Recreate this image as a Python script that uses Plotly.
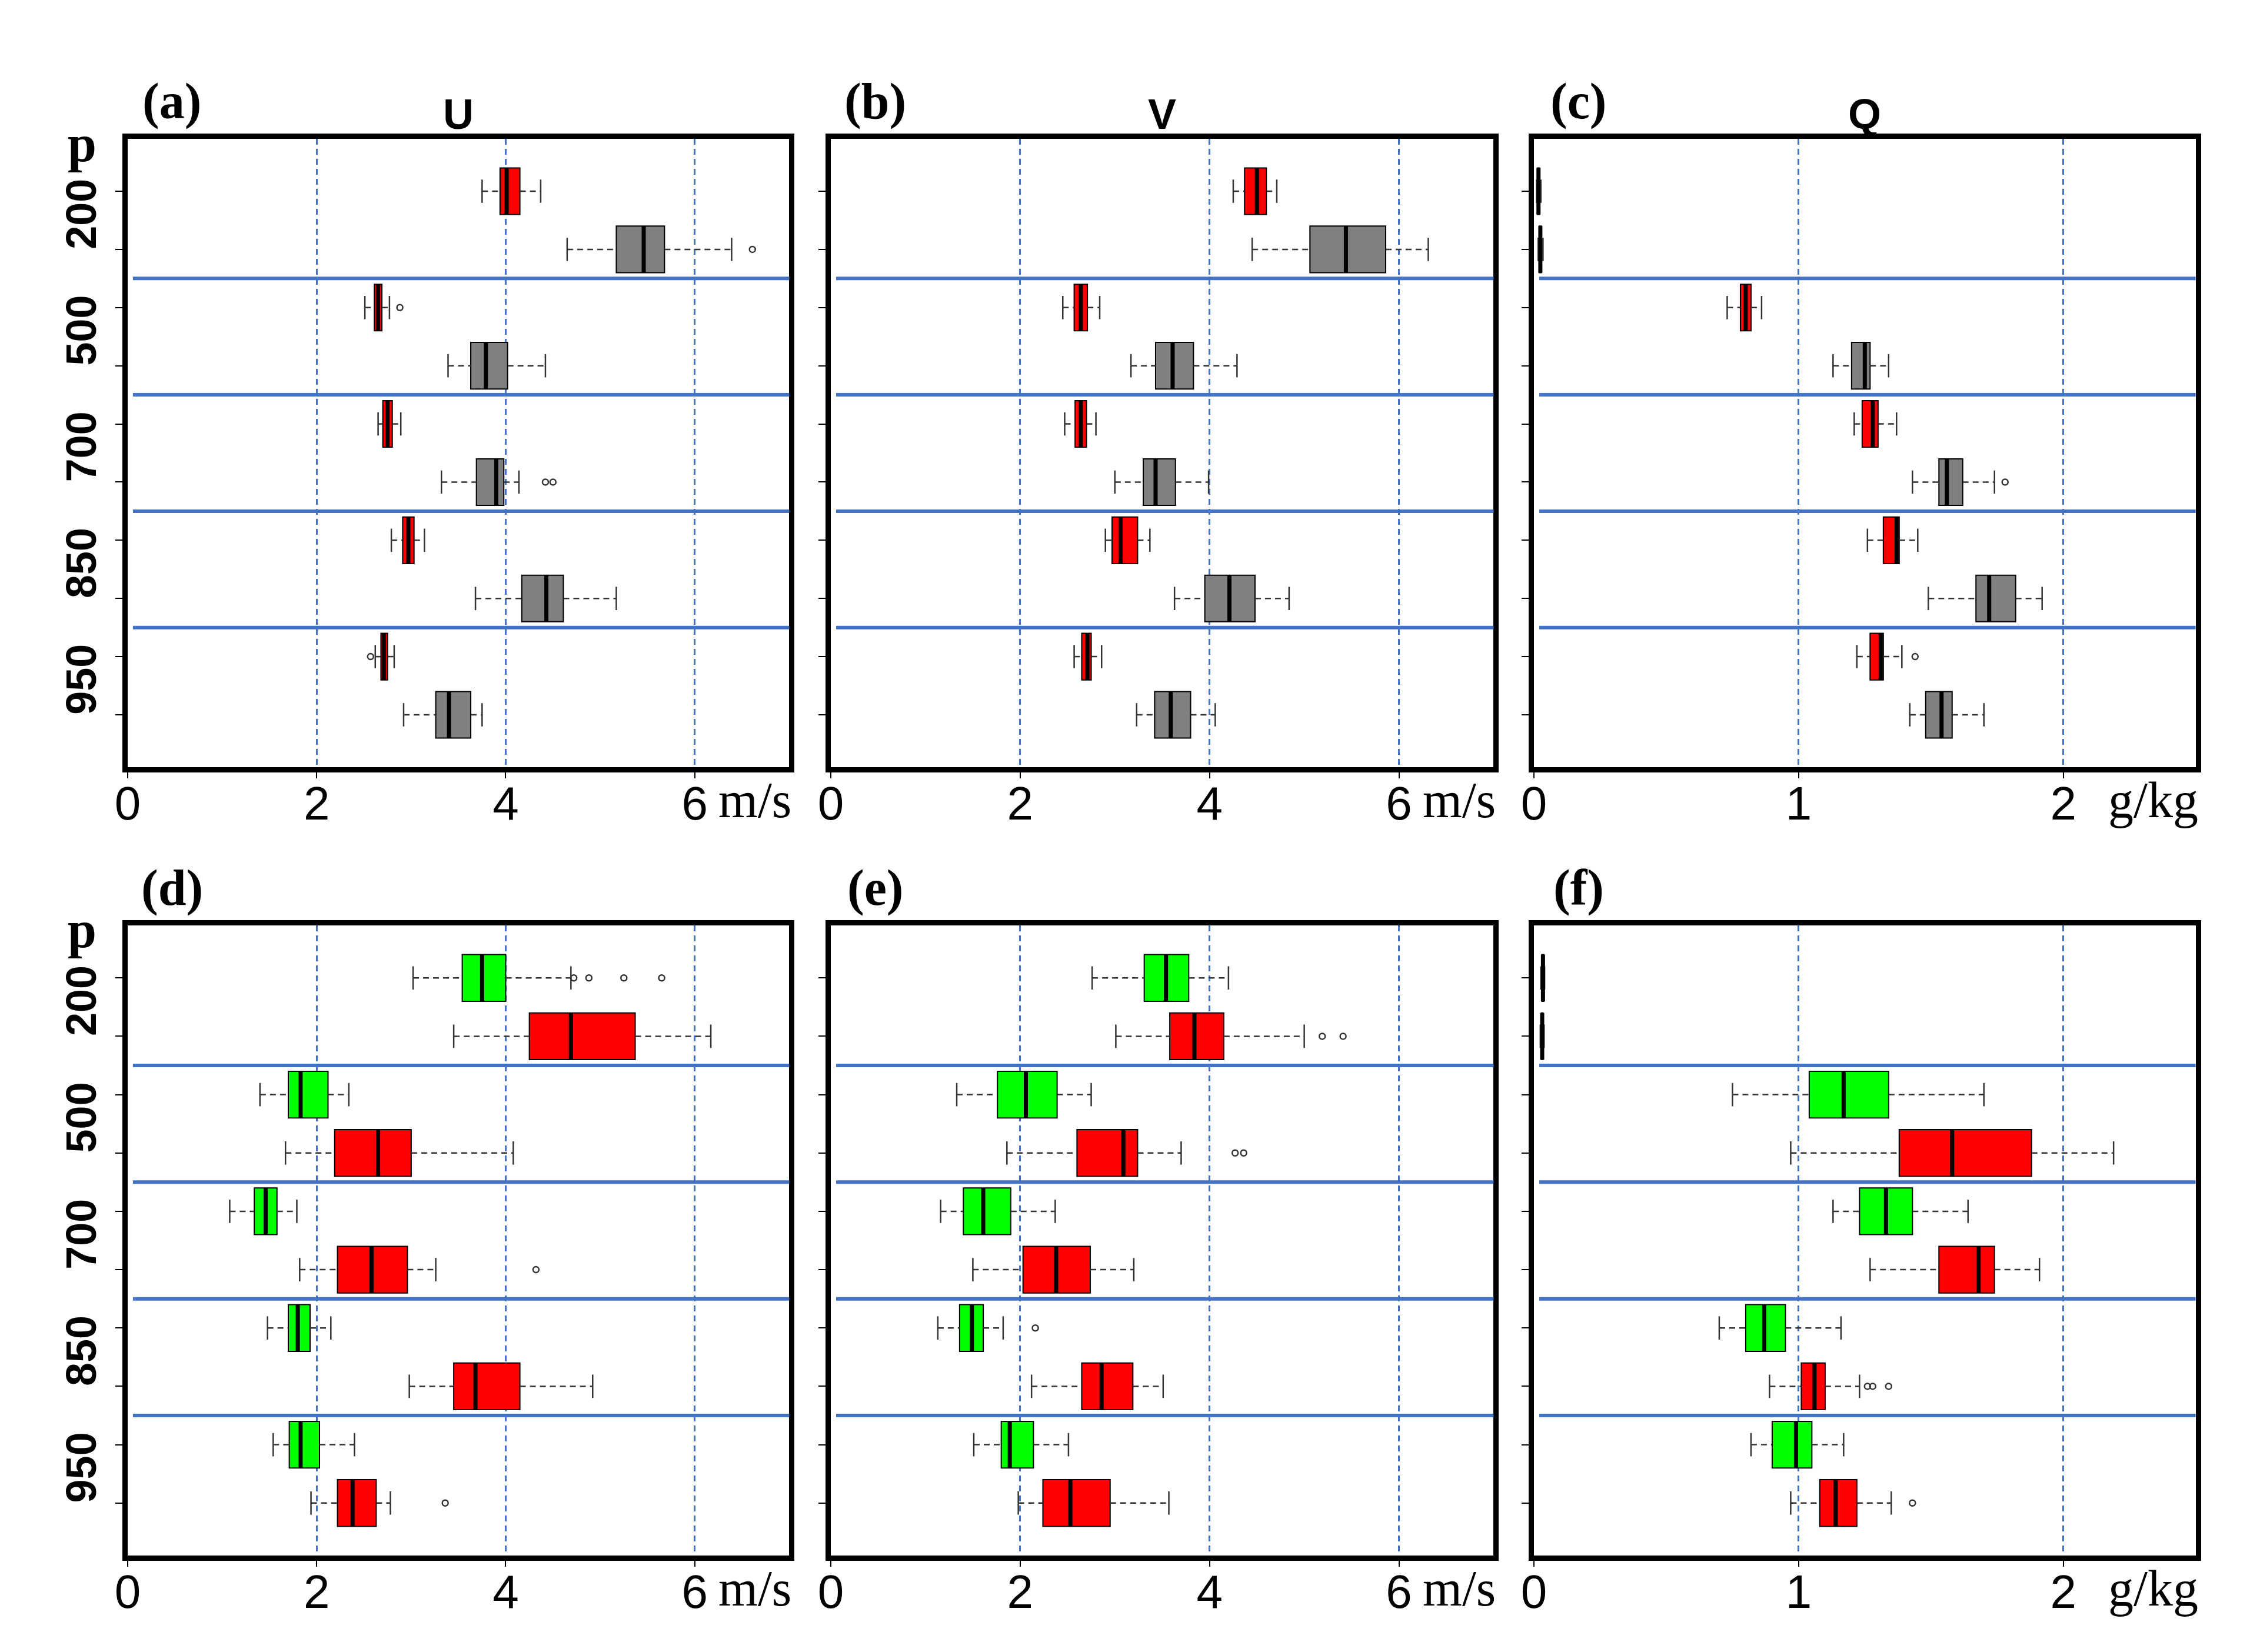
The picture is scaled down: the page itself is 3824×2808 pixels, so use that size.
import plotly.graph_objects as go

# pressure levels (hPa), two boxes per level
levels = ["200", "500", "700", "850", "950"]

# each row: lower whisker, q1, median, q3, upper whisker  (one row per level)
# (a) U  red / gray
a_red = [[3.75, 3.94, 4.01, 4.15, 4.37], [2.51, 2.61, 2.65, 2.69, 2.77], [2.65, 2.70, 2.75, 2.80, 2.89],
         [2.79, 2.91, 2.97, 3.03, 3.14], [2.62, 2.68, 2.71, 2.75, 2.82]]
a_red_out = [[], [2.88], [], [], [2.57]]
a_gray = [[4.65, 5.17, 5.46, 5.68, 6.39], [3.39, 3.63, 3.79, 4.02, 4.42], [3.32, 3.69, 3.90, 3.98, 4.14],
          [3.68, 4.17, 4.43, 4.61, 5.17], [2.92, 3.26, 3.40, 3.63, 3.75]]
a_gray_out = [[6.61], [], [4.42, 4.50], [], []]

# (b) V  red / gray
b_red = [[4.25, 4.37, 4.50, 4.60, 4.71], [2.45, 2.57, 2.64, 2.71, 2.84], [2.47, 2.58, 2.64, 2.70, 2.80],
         [2.90, 2.97, 3.06, 3.24, 3.37], [2.57, 2.65, 2.71, 2.75, 2.86]]
b_red_out = [[], [], [], [], []]
b_gray = [[4.45, 5.06, 5.44, 5.86, 6.31], [3.17, 3.43, 3.61, 3.83, 4.29], [3.00, 3.30, 3.43, 3.64, 3.99],
          [3.63, 3.95, 4.21, 4.48, 4.84], [3.23, 3.42, 3.59, 3.80, 4.06]]
b_gray_out = [[], [], [], [], []]

# (c) Q  red / gray
c_red = [[0.010, 0.013, 0.017, 0.021, 0.026], [0.73, 0.78, 0.80, 0.82, 0.86], [1.21, 1.24, 1.28, 1.30, 1.37],
         [1.26, 1.32, 1.37, 1.38, 1.45], [1.22, 1.27, 1.31, 1.32, 1.39]]
c_red_out = [[], [], [], [], [1.44]]
c_gray = [[0.016, 0.020, 0.024, 0.028, 0.034], [1.13, 1.20, 1.25, 1.27, 1.34], [1.43, 1.53, 1.56, 1.62, 1.74],
          [1.49, 1.67, 1.72, 1.82, 1.92], [1.42, 1.48, 1.54, 1.58, 1.70]]
c_gray_out = [[], [], [1.78], [], []]

# (d) U  green / red
d_green = [[3.02, 3.54, 3.75, 4.00, 4.69], [1.40, 1.70, 1.83, 2.12, 2.34], [1.08, 1.34, 1.46, 1.58, 1.79],
           [1.48, 1.70, 1.80, 1.93, 2.15], [1.54, 1.71, 1.83, 2.03, 2.40]]
d_green_out = [[4.72, 4.88, 5.25, 5.65], [], [], [], []]
d_red = [[3.45, 4.25, 4.69, 5.37, 6.17], [1.67, 2.19, 2.65, 3.00, 4.08], [1.82, 2.22, 2.58, 2.96, 3.26],
         [2.98, 3.45, 3.68, 4.15, 4.92], [1.94, 2.22, 2.38, 2.63, 2.78]]
d_red_out = [[], [], [4.32], [], [3.36]]

# (e) V  green / red
e_green = [[2.76, 3.31, 3.54, 3.78, 4.20], [1.33, 1.76, 2.06, 2.39, 2.75], [1.16, 1.40, 1.61, 1.90, 2.37],
           [1.13, 1.36, 1.49, 1.61, 1.82], [1.51, 1.80, 1.89, 2.14, 2.51]]
e_green_out = [[], [], [], [2.16], []]
e_red = [[3.01, 3.58, 3.84, 4.15, 5.00], [1.86, 2.60, 3.09, 3.24, 3.70], [1.50, 2.03, 2.38, 2.74, 3.20],
         [2.12, 2.65, 2.86, 3.19, 3.51], [1.98, 2.24, 2.53, 2.95, 3.57]]
e_red_out = [[5.19, 5.41], [4.27, 4.36], [], [], []]

# (f) Q  green / red
f_green = [[0.026, 0.030, 0.034, 0.037, 0.040], [0.75, 1.04, 1.17, 1.34, 1.70], [1.13, 1.23, 1.33, 1.43, 1.64],
           [0.70, 0.80, 0.87, 0.95, 1.16], [0.82, 0.90, 0.99, 1.05, 1.17]]
f_green_out = [[], [], [], [], []]
f_red = [[0.024, 0.028, 0.031, 0.034, 0.038], [0.97, 1.38, 1.58, 1.88, 2.19], [1.27, 1.53, 1.68, 1.74, 1.91],
         [0.89, 1.01, 1.06, 1.10, 1.23], [0.97, 1.08, 1.14, 1.22, 1.35]]
f_red_out = [[], [], [], [1.26, 1.28, 1.34], [1.43]]

wind_ticks = [0, 2, 4, 6]
q_ticks = [0, 1, 2]

RED = "#FF0000"
GRAY = "#808080"
GREEN = "#00FF00"
BLUE = "#4472C4"
SANS = "Liberation Sans, Arial, sans-serif"
SERIF = "Liberation Serif, Times New Roman, serif"

W, H = 3824, 2808
col_px = [(188, 1319), (1390, 2523), (2592, 3723)]
row_px = [(228, 1296), (1565, 2636)]

panels = [
    ("(a)", "U", "m/s", 7.0, wind_ticks, (a_red, a_red_out, RED), (a_gray, a_gray_out, GRAY)),
    ("(b)", "V", "m/s", 7.0, wind_ticks, (b_red, b_red_out, RED), (b_gray, b_gray_out, GRAY)),
    ("(c)", "Q", "g/kg", 2.5, q_ticks, (c_red, c_red_out, RED), (c_gray, c_gray_out, GRAY)),
    ("(d)", "", "m/s", 7.0, wind_ticks, (d_green, d_green_out, GREEN), (d_red, d_red_out, RED)),
    ("(e)", "", "m/s", 7.0, wind_ticks, (e_green, e_green_out, GREEN), (e_red, e_red_out, RED)),
    ("(f)", "", "g/kg", 2.5, q_ticks, (f_green, f_green_out, GREEN), (f_red, f_red_out, RED)),
]

fig = go.Figure()
shapes = []
annotations = []
layout_axes = {}

for k, (tag, title, unit, xmax, ticks, s1, s2) in enumerate(panels):
    r, c = divmod(k, 3)
    sfx = "" if k == 0 else str(k + 1)
    xa, ya = "x" + sfx, "y" + sfx
    x0, x1 = col_px[c][0] / W, col_px[c][1] / W
    y0, y1 = 1 - row_px[r][1] / H, 1 - row_px[r][0] / H

    wx, wy, cx, cy, mx, my, ox, oy = [], [], [], [], [], [], [], []
    for j, (stats, outs, color) in enumerate([s1, s2]):
        pos = [2 * i + 1 + j for i in range(len(levels))]
        fig.add_trace(go.Box(
            y=pos, orientation="h",
            q1=[s[1] for s in stats], median=[s[2] for s in stats], q3=[s[3] for s in stats],
            lowerfence=[s[1] for s in stats], upperfence=[s[3] for s in stats],
            width=0.8, whiskerwidth=0, boxpoints=False,
            fillcolor=color, line=dict(color="black", width=2),
            xaxis=xa, yaxis=ya, showlegend=False, hoverinfo="skip"))
        for p, (lo, q1, md, q3, hi), ol in zip(pos, stats, outs):
            wx += [lo, q1, None, q3, hi, None]
            wy += [p, p, None, p, p, None]
            cx += [lo, lo, None, hi, hi, None]
            cy += [p - 0.2, p + 0.2, None, p - 0.2, p + 0.2, None]
            mx += [md, md, None]
            my += [p - 0.4, p + 0.4, None]
            ox += ol
            oy += [p] * len(ol)

    fig.add_trace(go.Scatter(x=wx, y=wy, mode="lines", xaxis=xa, yaxis=ya, showlegend=False,
                             line=dict(color="#333333", width=2.5, dash="10px,7px"), hoverinfo="skip"))
    fig.add_trace(go.Scatter(x=cx, y=cy, mode="lines", xaxis=xa, yaxis=ya, showlegend=False,
                             line=dict(color="#333333", width=2.5), hoverinfo="skip"))
    fig.add_trace(go.Scatter(x=mx, y=my, mode="lines", xaxis=xa, yaxis=ya, showlegend=False,
                             line=dict(color="black", width=7), hoverinfo="skip"))
    fig.add_trace(go.Scatter(x=ox, y=oy, mode="markers", xaxis=xa, yaxis=ya, showlegend=False,
                             marker=dict(symbol="circle-open", size=10, color="#333333", line=dict(width=2.5)),
                             hoverinfo="skip"))

    layout_axes["xaxis" + sfx] = dict(
        domain=[x0, x1], anchor=ya, range=[0, xmax], tickmode="array", tickvals=ticks,
        ticks="outside", ticklen=10, tickwidth=2, tickcolor="black", ticklabelstandoff=-26,
        showline=True, mirror=True, linewidth=9, linecolor="black",
        showgrid=True, gridcolor=BLUE, gridwidth=2.5, griddash="10px,7px", zeroline=False,
        tickfont=dict(family=SANS, size=80, color="black"))
    layout_axes["yaxis" + sfx] = dict(
        domain=[y0, y1], anchor=xa, range=[10.9, 0.1], tickmode="array",
        tickvals=[2 * i + 1.5 for i in range(len(levels))],
        ticktext=levels if c == 0 else [""] * len(levels), showticklabels=(c == 0),
        ticks="", tickangle=-90, ticklabelstandoff=16,
        minor=dict(ticks="outside", tick0=1, dtick=1, ticklen=12, tickwidth=2, tickcolor="black", showgrid=False),
        showline=True, mirror=True, linewidth=9, linecolor="black",
        showgrid=False, zeroline=False,
        tickfont=dict(family=SANS, size=72, color="black", weight="bold"))

    # blue separators between pressure levels
    for i in range(len(levels) - 1):
        yb = 2 * (i + 1) + 0.5
        shapes.append(dict(type="line", xref=xa + " domain", yref=ya, x0=0.008, x1=1, y0=yb, y1=yb,
                           line=dict(color=BLUE, width=6)))

    annotations.append(dict(text="<b>%s</b>" % tag, xref="paper", yref="paper", x=x0 + 76 / W,
                            y=y1 + 64 / H, xanchor="center", yanchor="middle", showarrow=False,
                            font=dict(family=SERIF, size=86, color="black")))
    if title:
        annotations.append(dict(text="<b>%s</b>" % title, xref="paper", yref="paper", x=(x0 + x1) / 2,
                                y=y1 + 42 / H, xanchor="center", yanchor="middle", showarrow=False,
                                font=dict(family=SANS, size=72, color="black")))
    annotations.append(dict(text=unit, xref="paper", yref="paper", x=x1 + 6 / W, y=y0 - 56 / H,
                            xanchor="right", yanchor="middle", showarrow=False,
                            font=dict(family=SERIF, size=86, color="black")))
    if c == 0:
        annotations.append(dict(text="<b>p</b>", xref="paper", yref="paper", x=110 / W, y=y1 - 8 / H,
                                xanchor="center", yanchor="middle", showarrow=False,
                                font=dict(family=SERIF, size=88, color="black")))

fig.update_layout(
    width=W, height=H, margin=dict(l=0, r=0, t=0, b=0),
    paper_bgcolor="white", plot_bgcolor="white",
    shapes=shapes, annotations=annotations, showlegend=False,
    **layout_axes)

fig.write_html("out.html")
